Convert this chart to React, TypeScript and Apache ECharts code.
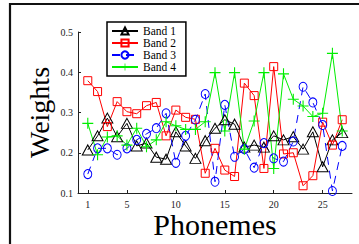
import React, { useEffect, useRef } from "react";
import * as echarts from "echarts";

const phonemes = [1,2,3,4,5,6,7,8,9,10,11,12,13,14,15,16,17,18,19,20,21,22,23,24,25,26,27];
const band1 = [0.207,0.242,0.286,0.24,0.273,0.217,0.224,0.189,0.184,0.252,0.217,0.186,0.23,0.261,0.282,0.271,0.214,0.219,0.214,0.242,0.232,0.24,0.209,0.252,0.165,0.232,0.25];
const band2 = [0.379,0.352,0.265,0.327,0.302,0.297,0.317,0.325,0.242,0.306,0.288,0.283,0.149,0.211,0.157,0.141,0.373,0.342,0.161,0.414,0.197,0.2,0.118,0.143,0.276,0.219,0.282];
const band3 = [0.147,0.211,0.211,0.195,0.211,0.232,0.247,0.261,0.298,0.175,0.242,0.282,0.346,0.128,0.319,0.19,0.209,0.163,0.224,0.186,0.178,0.228,0.364,0.325,0.269,0.105,0.217];
const band4 = [0.273,0.195,0.239,0.242,0.219,0.261,0.215,0.232,0.277,0.267,0.258,0.258,0.277,0.399,0.254,0.399,0.209,0.279,0.399,0.161,0.396,0.333,0.316,0.29,0.298,0.447,0.254];
const xTicks = [1, 5, 10, 15, 20, 25];
const seriesNames = ["Band 1", "Band 2", "Band 3", "Band 4"];

const SERIF = "'Liberation Serif', 'DejaVu Serif', serif";
const PLUS = "path://M4.5,0h1v4.5h4.5v1h-4.5v4.5h-1v-4.5h-4.5v-1h4.5z";

export default function App() {
  const ref = useRef<HTMLDivElement>(null);
  useEffect(() => {
    if (!ref.current) return;
    const chart = echarts.init(ref.current, undefined, { renderer: "svg" });
    const pair = (arr: number[]) => arr.map((v, i) => [phonemes[i], v]);
    chart.setOption({
      animation: false,
      backgroundColor: "#fff",
      graphic: [
        {
          type: "rect",
          shape: { x: 10, y: 4, width: 400, height: 300 },
          style: { fill: "none", stroke: "#111", lineWidth: 2.2 },
          silent: true,
        },
      ],
      grid: { left: 78, top: 32, right: 7, bottom: 51, outerBoundsMode: "none", containLabel: false },
      legend: {
        orient: "vertical",
        left: 107,
        top: 22,
        data: seriesNames,
        itemWidth: 26,
        itemHeight: 9,
        itemGap: 0,
        padding: [3, 10, 3, 4],
        borderColor: "#000",
        borderWidth: 1.5,
        backgroundColor: "#fff",
        textStyle: { fontFamily: SERIF, fontSize: 11.5, color: "#000", lineHeight: 12 },
      },
      xAxis: {
        type: "value",
        min: 0,
        max: 28,
        name: "Phonemes",
        nameLocation: "middle",
        nameGap: 19,
        nameMoveOverlap: false,
        nameTextStyle: { fontFamily: SERIF, fontSize: 30, color: "#000", lineHeight: 24 },
        splitLine: { show: false },
        axisLine: { lineStyle: { color: "#222", width: 1 } },
        axisTick: { inside: true, length: 3, customValues: xTicks, lineStyle: { color: "#222" } },
        axisLabel: { customValues: xTicks, fontFamily: SERIF, fontSize: 10, color: "#222", margin: 6 },
      },
      yAxis: {
        type: "value",
        min: 0.1,
        max: 0.5,
        interval: 0.1,
        name: "Weights",
        nameLocation: "middle",
        nameGap: 25,
        nameMoveOverlap: false,
        nameTextStyle: { fontFamily: SERIF, fontSize: 28, color: "#000" },
        splitLine: { show: false },
        axisLine: { show: true, lineStyle: { color: "#222", width: 1 } },
        axisTick: { show: true, inside: true, length: 3, lineStyle: { color: "#222" } },
        axisLabel: {
          fontFamily: SERIF,
          fontSize: 10,
          color: "#222",
          margin: 5,
          formatter: (v: number) => v.toFixed(1),
        },
      },
      series: [
        {
          name: "Band 1",
          type: "line",
          data: pair(band1),
          symbol: "triangle",
          symbolSize: [11, 10],
          lineStyle: { color: "#000", width: 1 },
          itemStyle: { color: "rgba(255,255,255,0)", borderColor: "#000", borderWidth: 1 },
        },
        {
          name: "Band 2",
          type: "line",
          data: pair(band2),
          symbol: "rect",
          symbolSize: 8,
          lineStyle: { color: "#ff0000", width: 1 },
          itemStyle: { color: "rgba(255,255,255,0)", borderColor: "#ff0000", borderWidth: 1 },
        },
        {
          name: "Band 3",
          type: "line",
          data: pair(band3),
          symbol: "circle",
          symbolSize: [8, 9],
          lineStyle: { color: "#0000ff", width: 1, type: [8, 6] },
          itemStyle: { color: "rgba(255,255,255,0)", borderColor: "#0000ff", borderWidth: 1 },
        },
        {
          name: "Band 4",
          type: "line",
          data: pair(band4),
          symbol: PLUS,
          symbolSize: 11,
          lineStyle: { color: "#00ee00", width: 1 },
          itemStyle: { color: "#00ee00" },
        },
      ],
    });
    return () => chart.dispose();
  }, []);
  return <div ref={ref} style={{ width: 359, height: 244, position: "absolute", left: 0, top: 0 }} />;
}
